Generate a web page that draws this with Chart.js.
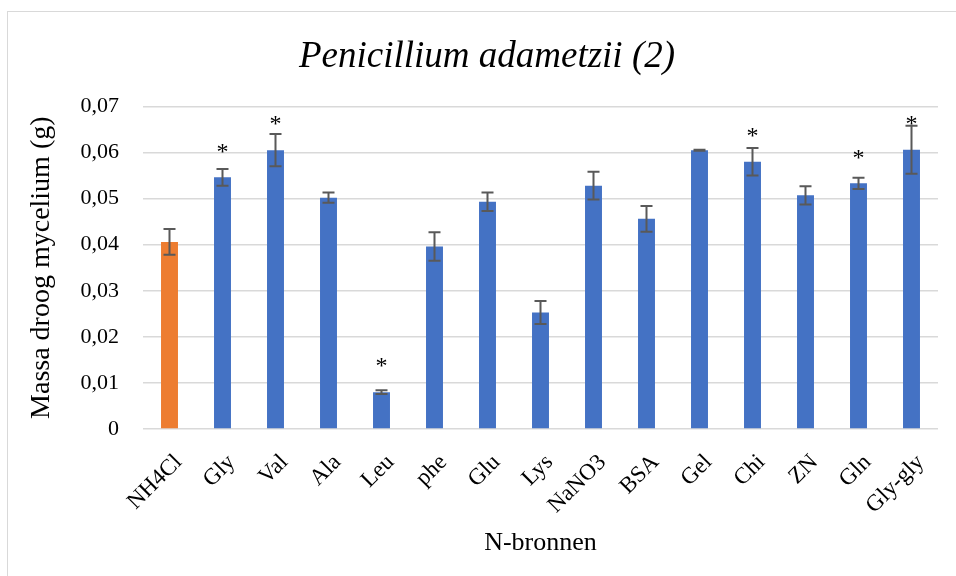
<!DOCTYPE html>
<html>
<head>
<meta charset="utf-8">
<script src="https://cdn.jsdelivr.net/npm/chart.js@4"></script>
<style>
  html, body { margin: 0; padding: 0; background: #fff; }
  #wrap { position: relative; width: 956px; height: 576px; overflow: hidden; }
  #frame {
    position: absolute; left: 7px; top: 11px; width: 1000px; height: 700px;
    border: 1.5px solid #d9d9d9; box-sizing: border-box;
  }
  canvas { position: absolute; left: 0; top: 0; }
</style>
</head>
<body>
<div id="wrap">
  <div id="frame"></div>
  <canvas id="chart" width="956" height="576"></canvas>
</div>
<script>
  const sources = ["NH4Cl", "Gly", "Val", "Ala", "Leu", "phe", "Glu", "Lys",
    "NaNO3", "BSA", "Gel", "Chi", "ZN", "Gln", "Gly-gly"];
  const massMean = [0.0406, 0.0546, 0.0605, 0.0502, 0.0080, 0.0396, 0.0493, 0.0253,
    0.0528, 0.0456, 0.0605, 0.0580, 0.0507, 0.0533, 0.0606];
  const massErr = [0.0028, 0.0018, 0.0035, 0.0011, 0.0004, 0.0031, 0.0020, 0.0025,
    0.0030, 0.0028, 0.0001, 0.0030, 0.0020, 0.0012, 0.0052];
  // height (in g) where the significance asterisk sits, null = none
  const starAt = [null, 0.0608, 0.0669, null, 0.0144, null, null, null,
    null, null, null, 0.0643, null, 0.0595, 0.0669];
  const barColors = sources.map((s, i) => (i === 0 ? "#ED7D31" : "#4472C4"));

  const serif = "'Liberation Serif', 'Times New Roman', serif";

  const errorBars = {
    id: "errorBars",
    afterDatasetsDraw(chart) {
      const ctx = chart.ctx;
      const y = chart.scales.y;
      const meta = chart.getDatasetMeta(0);
      ctx.save();
      ctx.strokeStyle = "#595959";
      ctx.lineWidth = 2;
      meta.data.forEach((bar, i) => {
        const top = y.getPixelForValue(massMean[i] + massErr[i]);
        const bot = y.getPixelForValue(massMean[i] - massErr[i]);
        ctx.beginPath();
        ctx.moveTo(bar.x, top);
        ctx.lineTo(bar.x, bot);
        ctx.moveTo(bar.x - 6, top);
        ctx.lineTo(bar.x + 6, top);
        ctx.moveTo(bar.x - 6, bot);
        ctx.lineTo(bar.x + 6, bot);
        ctx.stroke();
      });
      // asterisks
      ctx.fillStyle = "#000";
      ctx.font = "24px " + serif;
      ctx.textAlign = "center";
      ctx.textBaseline = "alphabetic";
      meta.data.forEach((bar, i) => {
        if (starAt[i] == null) return;
        ctx.fillText("*", bar.x, y.getPixelForValue(starAt[i]) + 10);
      });
      ctx.restore();
    }
  };

  new Chart(document.getElementById("chart"), {
    type: "bar",
    data: {
      labels: sources,
      datasets: [{
        data: massMean,
        backgroundColor: barColors,
        borderWidth: 0,
        barPercentage: 0.32,
        categoryPercentage: 1
      }]
    },
    options: {
      responsive: false,
      animation: false,
      devicePixelRatio: 1,
      // left padding keeps the title centred on the frame like the original
      layout: { padding: { left: 36, right: 18, top: 0, bottom: 0 } },
      plugins: {
        legend: { display: false },
        tooltip: { enabled: false },
        title: {
          display: true,
          text: "Penicillium adametzii (2)",
          color: "#000",
          font: { family: serif, size: 37, style: "italic", weight: "normal", lineHeight: 1.2 },
          padding: { top: 35, bottom: 27 }
        }
      },
      scales: {
        x: {
          grid: { display: false },
          border: { display: false },
          ticks: {
            color: "#000",
            font: { family: serif, size: 23 },
            minRotation: 45,
            maxRotation: 45,
            padding: 12,
            labelOffset: 9
          },
          title: {
            display: true,
            text: "N-bronnen",
            color: "#000",
            font: { family: serif, size: 26 },
            padding: { top: 0, bottom: 17 }
          },
          afterFit(scale) { scale.height = 147; }
        },
        y: {
          min: 0,
          max: 0.07,
          border: { display: false },
          grid: { color: "#d9d9d9", lineWidth: 1.5, drawTicks: false },
          ticks: {
            stepSize: 0.01,
            color: "#000",
            font: { family: serif, size: 22 },
            padding: 24,
            callback: (v) => (v === 0 ? "0" : v.toFixed(2).replace(".", ","))
          },
          title: {
            display: true,
            text: "Massa droog mycelium (g)",
            color: "#000",
            font: { family: serif, size: 28 },
            padding: { top: -11, bottom: 0 }
          },
          afterFit(scale) { scale.width = 107; }
        }
      }
    },
    plugins: [errorBars]
  });
</script>
</body>
</html>
